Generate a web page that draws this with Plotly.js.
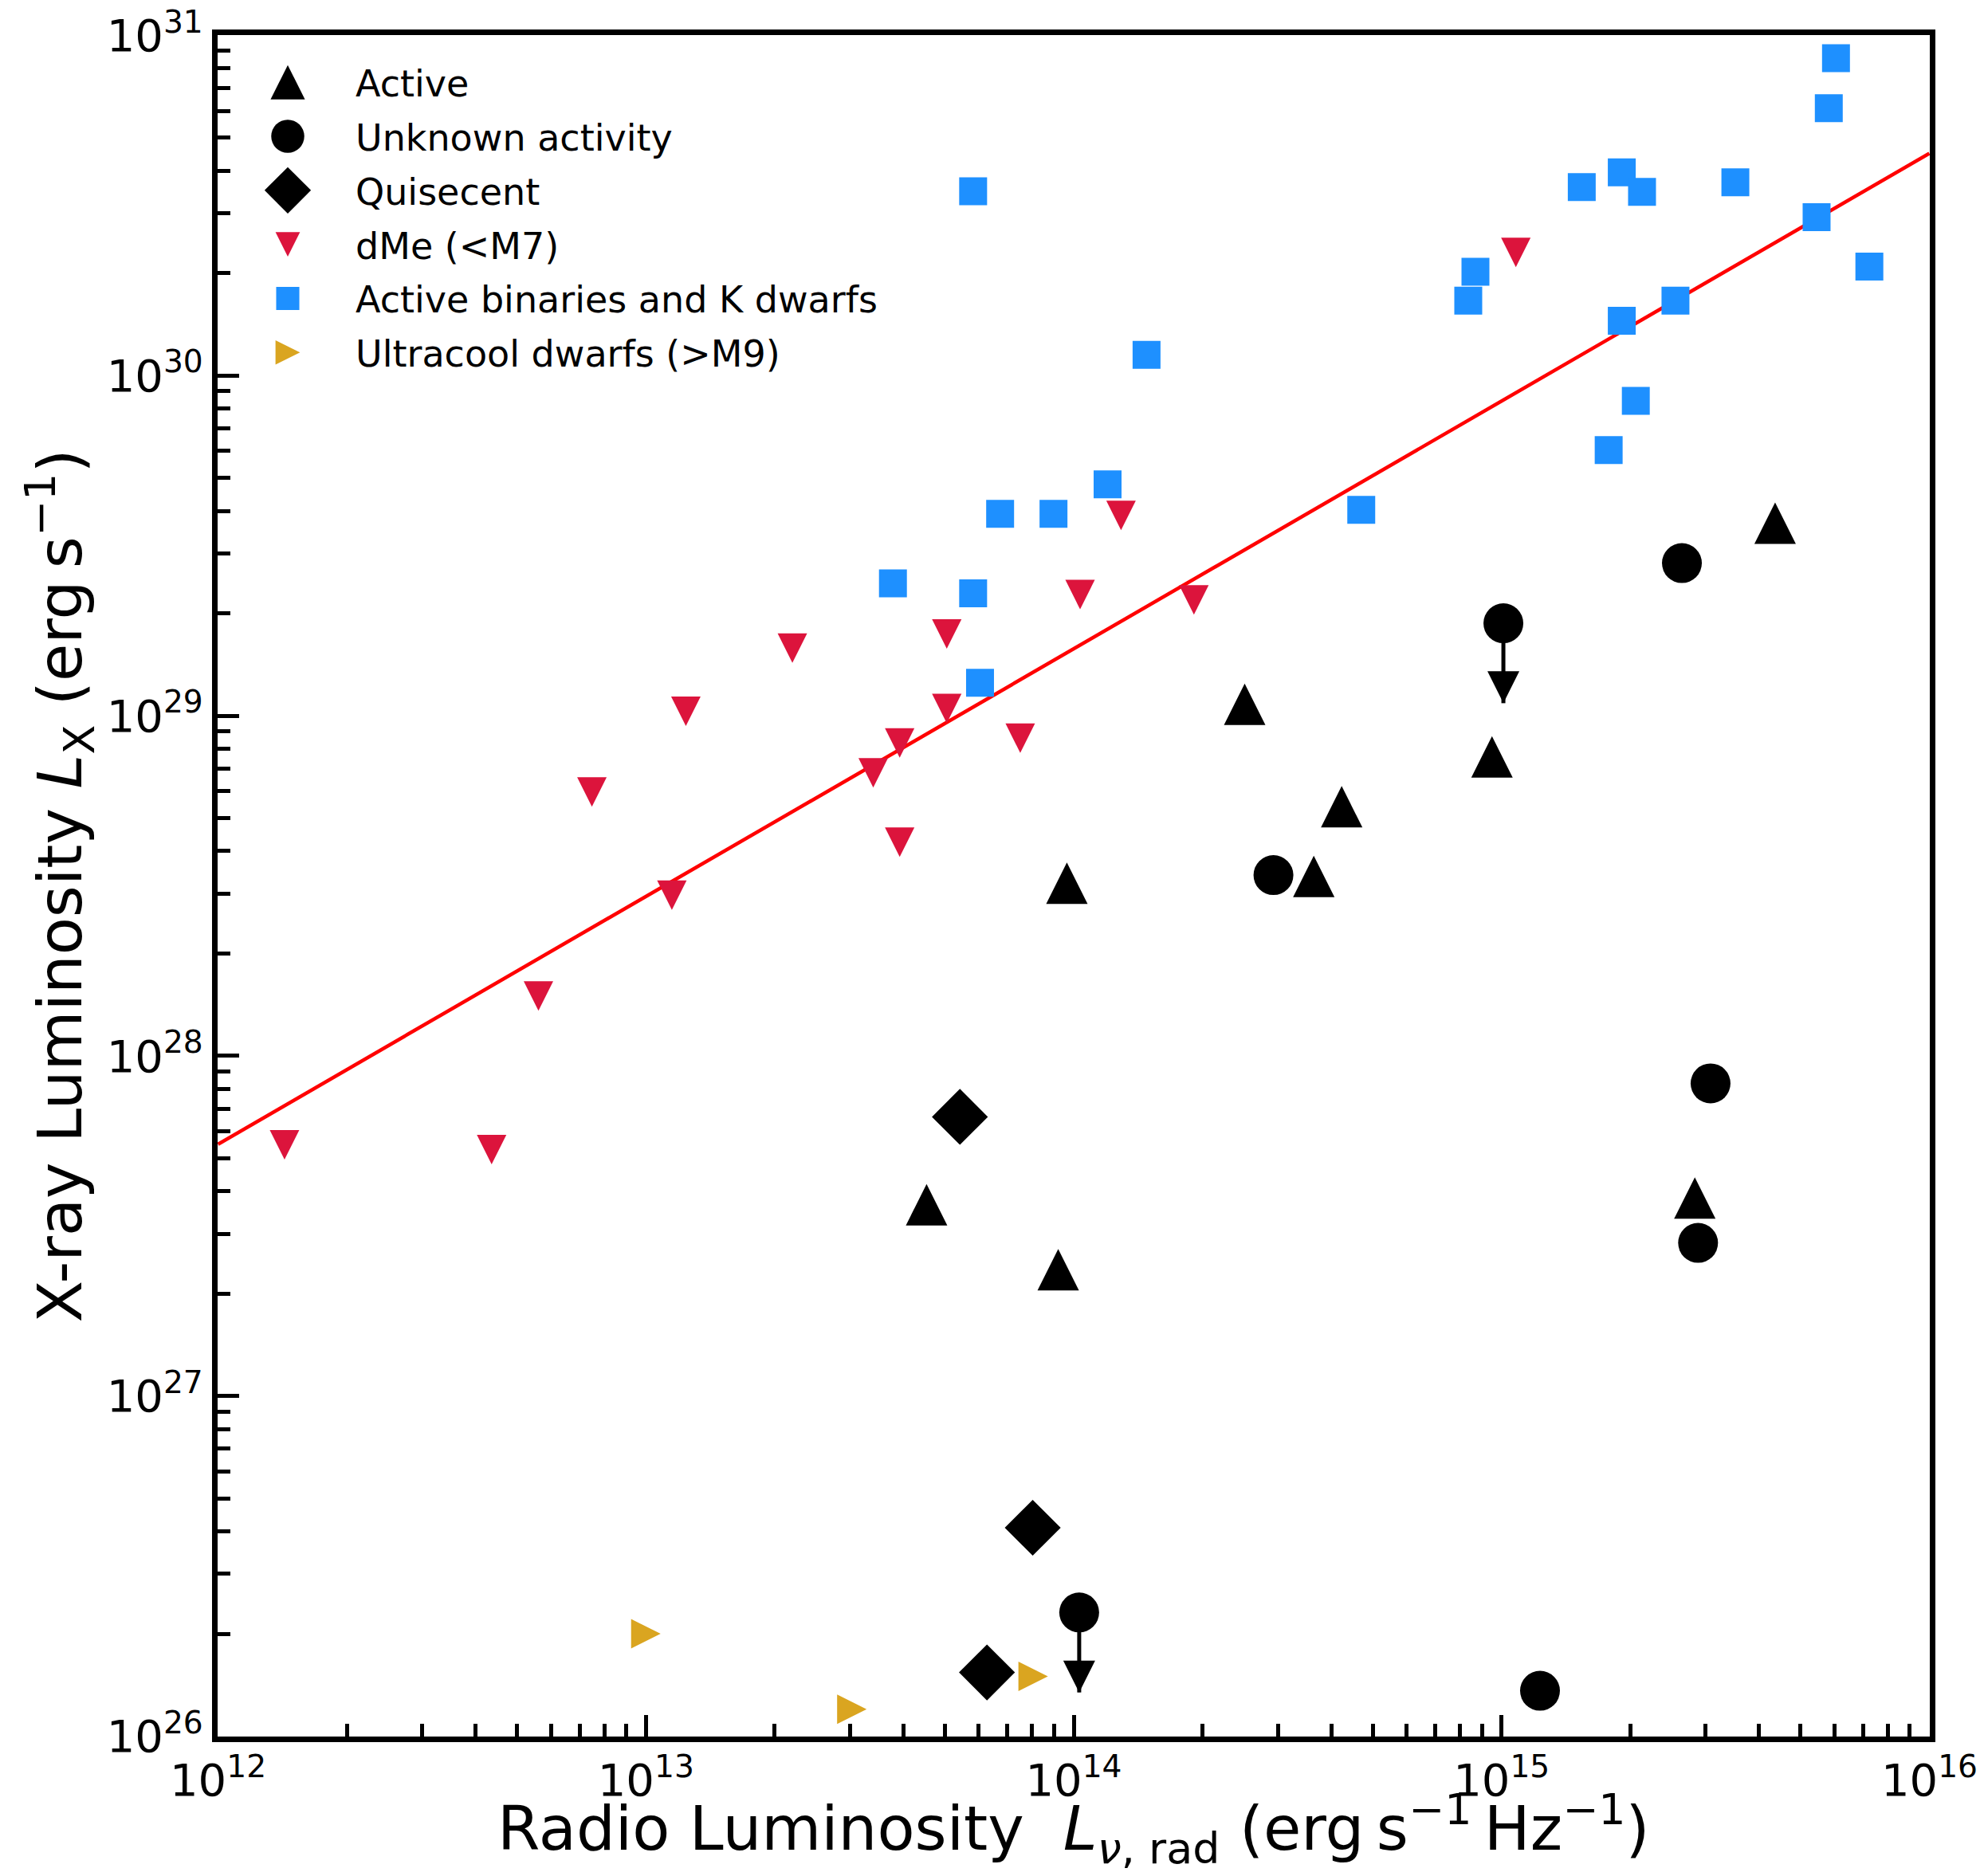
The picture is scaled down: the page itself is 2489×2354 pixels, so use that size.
<!DOCTYPE html>
<html>
<head>
<meta charset="utf-8">
<script src="https://cdn.plot.ly/plotly-3.0.1.min.js"></script>
<style>
html, body { margin: 0; padding: 0; background: #ffffff; }
#chart { width: 2489px; height: 2354px; }
</style>
</head>
<body>
<div id="chart"></div>
<script>
// ---------------- data (erg s^-1 Hz^-1 , erg s^-1) ----------------
const activeLr = [2.51e14, 9.5e14, 4.23e14, 9.64e13, 3.64e14, 4.36e15, 4.53e13, 9.2e13, 2.83e15];
const activeLx = [1.08e29, 7.57e28, 5.40e28, 3.22e28, 3.37e28, 3.68e29, 3.65e27, 2.35e27, 3.82e27];

const unknownLr = [2.93e14, 2.64e15, 1.01e15, 3.08e15, 2.88e15, 1.23e15, 1.03e14];
const unknownLx = [3.40e28, 2.81e29, 1.87e29, 8.30e27, 2.82e27, 1.36e26, 2.31e26];
const unknownUpperLimit = [false, false, true, false, false, false, true];

const quiescentLr = [5.42e13, 8.02e13, 6.27e13];
const quiescentLx = [6.62e27, 4.10e26, 1.54e26];

const dmeLr = [1.08e15, 1.29e14, 1.035e14, 1.91e14, 5.05e13, 2.20e13, 5.05e13, 1.24e13, 3.92e13,
               7.50e13, 3.40e13, 7.48e12, 3.92e13, 1.15e13, 5.61e12, 1.43e12, 4.36e12];
const dmeLx = [2.30e30, 3.88e29, 2.27e29, 2.19e29, 1.74e29, 1.58e29, 1.05e29, 1.03e29, 8.32e28,
               8.59e28, 6.79e28, 5.97e28, 4.25e28, 2.97e28, 1.50e28, 5.48e27, 5.30e27];

const binLr = [6.05e15, 5.82e15, 1.91e15, 2.13e15, 3.52e15, 5.45e15, 7.24e15, 2.55e15, 1.91e15, 1.54e15,
               8.69e14, 8.36e14, 2.06e15, 1.78e15, 5.82e13, 1.48e14, 1.20e14, 6.73e13, 8.97e13, 3.78e13,
               5.82e13, 6.04e13, 4.70e14];
const binLx = [8.57e30, 6.11e30, 3.96e30, 3.47e30, 3.70e30, 2.92e30, 2.09e30, 1.66e30, 1.45e30, 3.58e30,
               2.02e30, 1.66e30, 8.43e29, 6.04e29, 3.48e30, 1.15e30, 4.79e29, 3.92e29, 3.92e29, 2.45e29,
               2.29e29, 1.25e29, 4.03e29];

const ucdLr = [1.00e13, 3.03e13, 8.04e13];
const ucdLx = [2.00e26, 1.20e26, 1.50e26];

// fitted relation (end points at the axis limits)
const fitLr = [1e12, 1e16];
const fitLx = [5.5e27, 4.5e30];

// axis limits, major tick values and tick labels
const xRange = [12, 16];
const yRange = [26, 31];
const xTicks = [1e12, 1e13, 1e14, 1e15, 1e16];
const xTickText = ['10<sup>12</sup>', '10<sup>13</sup>', '10<sup>14</sup>', '10<sup>15</sup>', '10<sup>16</sup>'];
const yTicks = [1e26, 1e27, 1e28, 1e29, 1e30, 1e31];
const yTickText = ['10<sup>26</sup>', '10<sup>27</sup>', '10<sup>28</sup>', '10<sup>29</sup>', '10<sup>30</sup>', '10<sup>31</sup>'];

const seriesNames = ['Active', 'Unknown activity', 'Quisecent', 'dMe (&lt;M7)',
                     'Active binaries and K dwarfs', 'Ultracool dwarfs (&gt;M9)'];
const xTitle = 'Radio Luminosity\u00a0 <i>L</i><sub><i>\u03bd</i>, rad</sub> (erg\u2009s<sup>\u22121</sup>\u2009Hz<sup>\u22121</sup>)';
const yTitle = 'X-ray Luminosity <i>L</i><sub>X</sub> (erg\u2009s<sup>\u22121</sup>)';

// ---------------- styles ----------------
const FONT = 'DejaVu Sans, Verdana, sans-serif';
const ARROW_DEX = 0.235;      // length of upper-limit arrows (in dex)
const LEGEND_SCALE = 0.83;    // legend symbol size relative to plot symbol size
const EDGE = 1e-3;            // keep the end ticks inside the range

function tri(size, angle) {   // isosceles triangle centred on the data point
  return {symbol: 'arrow-down', size: size, angle: angle, standoff: size / 2};
}

const ulX = [], ulY = [], tipX = [], tipY = [];
unknownLr.forEach((x, i) => {
  if (unknownUpperLimit[i]) {
    const tip = unknownLx[i] / Math.pow(10, ARROW_DEX);
    ulX.push(x, x, null); ulY.push(unknownLx[i], tip, null);
    tipX.push(x); tipY.push(tip);
  }
});

const data = [
  {x: fitLr, y: fitLx, mode: 'lines', line: {color: '#ff0000', width: 4.5}, showlegend: false, hoverinfo: 'skip'},
  {x: ulX, y: ulY, mode: 'lines', line: {color: '#000000', width: 5}, showlegend: false, hoverinfo: 'skip'},
  {x: tipX, y: tipY, mode: 'markers', marker: {symbol: 'arrow-down', size: 40, color: '#000000', line: {width: 0}}, showlegend: false},
  {x: activeLr, y: activeLx, name: seriesNames[0], legendgroup: 'g0', mode: 'markers',
   marker: Object.assign(tri(52, 180), {color: '#000000', line: {width: 0}})},
  {x: unknownLr, y: unknownLx, name: seriesNames[1], legendgroup: 'g1', mode: 'markers',
   marker: {symbol: 'circle', size: 50, color: '#000000', line: {width: 0}}},
  {x: quiescentLr, y: quiescentLx, name: seriesNames[2], legendgroup: 'g2', mode: 'markers',
   marker: {symbol: 'diamond', size: 54, color: '#000000', line: {width: 0}}},
  {x: dmeLr, y: dmeLx, name: seriesNames[3], legendgroup: 'g3', mode: 'markers',
   marker: Object.assign(tri(37, 0), {color: '#dc143c', line: {width: 0}})},
  {x: binLr, y: binLx, name: seriesNames[4], legendgroup: 'g4', mode: 'markers',
   marker: {symbol: 'square', size: 35, color: '#1e90ff', line: {width: 0}}},
  {x: ucdLr, y: ucdLx, name: seriesNames[5], legendgroup: 'g5', mode: 'markers',
   marker: Object.assign(tri(37, -90), {color: '#daa520', line: {width: 0}})}
];

const axisCommon = {
  type: 'log', tickmode: 'array',
  ticklabeloverflow: 'allow',
  showgrid: false, zeroline: false,
  showline: true, mirror: true, linecolor: '#000000', linewidth: 7,
  ticks: 'inside', ticklen: 27, tickwidth: 5, tickcolor: '#000000',
  tickfont: {family: FONT, size: 56, color: '#000000'},
  minor: {ticks: 'inside', ticklen: 16, tickwidth: 5, tickcolor: '#000000', dtick: 'D1', showgrid: false},
  automargin: false
};

const layout = {
  width: 2489, height: 2354,
  margin: {l: 273, r: 68, t: 44, b: 175, pad: 0},
  paper_bgcolor: '#ffffff', plot_bgcolor: '#ffffff',
  font: {family: FONT, color: '#000000', size: 56},
  showlegend: true,
  legend: {x: 0.0014, y: 0.9893, xanchor: 'left', yanchor: 'top', bgcolor: 'rgba(0,0,0,0)',
           borderwidth: 0, font: {family: FONT, size: 46, color: '#000000'},
           itemwidth: 160, tracegroupgap: 5, traceorder: 'grouped'},
  xaxis: Object.assign({}, axisCommon, {
    range: [xRange[0] - EDGE, xRange[1] + EDGE], tickvals: xTicks, ticktext: xTickText
  }),
  yaxis: Object.assign({}, axisCommon, {
    range: [yRange[0] - EDGE, yRange[1] + EDGE], tickvals: yTicks, ticktext: yTickText
  }),
  annotations: [
    {text: xTitle, xref: 'paper', yref: 'paper', x: 0.5, y: -0.0545, xanchor: 'center', yanchor: 'middle',
     showarrow: false, font: {family: FONT, size: 77, color: '#000000'}},
    {text: yTitle, xref: 'paper', yref: 'paper', x: -0.0922, y: 0.5, xanchor: 'center', yanchor: 'middle',
     textangle: -90, showarrow: false, font: {family: FONT, size: 77, color: '#000000'}}
  ]
};

Plotly.newPlot('chart', data, layout, {staticPlot: true, displayModeBar: false}).then(function (gd) {
  gd.querySelectorAll('.legend .traces').forEach(function (g) {
    const d = g.__data__;
    const tr = d && d[0] && d[0].trace;
    if (!tr || !tr.marker) return;
    const k = LEGEND_SCALE * tr.marker.size / 16;
    g.querySelectorAll('.legendpoints path.scatterpts').forEach(function (p) {
      const bb = p.getBBox();
      const t = p.getAttribute('transform') || '';
      const m = /translate\(([-\d.]+)[ ,]+([-\d.]+)\)/.exec(t);
      const cx = m ? parseFloat(m[1]) : 0, cy = m ? parseFloat(m[2]) : 0;
      p.setAttribute('transform', 'translate(' + cx + ',' + cy + ') scale(' + k + ') translate(' +
        (-(bb.x + bb.width / 2)) + ',' + (-(bb.y + bb.height / 2)) + ')');
    });
  });
});
</script>
</body>
</html>
